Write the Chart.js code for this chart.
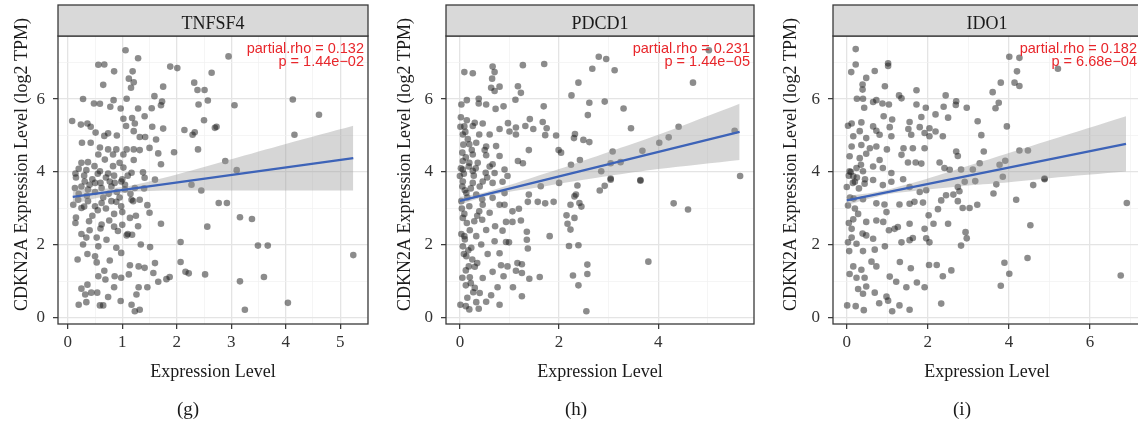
<!DOCTYPE html>
<html><head><meta charset="utf-8">
<script src="https://cdn.jsdelivr.net/npm/chart.js@4.4.1/dist/chart.umd.min.js"></script>
<style>
html,body{margin:0;padding:0;background:#fff;width:1138px;height:425px;overflow:hidden;position:relative}
canvas{position:absolute;top:0}
</style></head><body>
<canvas id="cg" width="378" height="425" style="left:0px"></canvas>
<canvas id="ch" width="380" height="425" style="left:378px"></canvas>
<canvas id="ci" width="390" height="425" style="left:758px"></canvas>
<script>
// ---------- tick labels ----------
const yMajor = [0, 2, 4, 6];
const yMinor = [1, 3, 5, 7];
const gXMajor = [0, 1, 2, 3, 4, 5];
const gXMinor = [0.5, 1.5, 2.5, 3.5, 4.5, 5.5];
const hXMajor = [0, 2, 4];
const hXMinor = [1, 3, 5];
const iXMajor = [0, 2, 4, 6];
const iXMinor = [1, 3, 5, 7];

// ---------- panel titles / stats ----------
const panelGenes = ['TNFSF4', 'PDCD1', 'IDO1'];
const panelRho = ['partial.rho = 0.132', 'partial.rho = 0.231', 'partial.rho = 0.182'];
const panelP = ['p = 1.44e\u221202', 'p = 1.44e\u221205', 'p = 6.68e\u221204'];
const panelLetters = ['(g)', '(h)', '(i)'];
const yTitle = 'CDKN2A Expression Level (log2 TPM)';
const xTitle = 'Expression Level';

// ---------- TNFSF4 (g) ----------
const tnfsf4Pts = [
[1.06,7.34],[1.29,7.12],[0.56,6.94],[0.67,6.95],[0.85,6.76],[1.19,6.76],[1.12,6.56],[1.21,6.46],[0.65,6.39],[1.16,6.31],
[1.88,6.89],[2.01,6.85],[2.95,7.17],[2.64,6.72],[2.32,6.45],[2.38,6.25],[2.51,6.25],[1.75,6.34],[1.59,6.08],[1.73,5.93],
[1.71,5.83],[1.54,5.75],[0.28,6.00],[0.48,5.88],[0.59,5.87],[0.84,5.97],[0.78,5.79],[1.08,6.01],[1.29,5.74],[0.97,5.74],
[2.57,5.96],[2.40,5.85],[3.06,5.83],[4.13,5.99],[4.61,5.57],[4.16,5.02],[0.08,5.40],[0.24,5.30],[0.36,5.33],[0.42,5.24],
[1.02,5.46],[1.18,5.48],[1.07,5.26],[1.23,5.33],[1.41,5.53],[1.55,5.24],[1.75,5.19],[2.50,5.42],[2.70,5.21],[2.73,5.24],
[2.14,5.15],[2.33,5.09],[2.29,5.02],[2.39,4.62],[1.95,4.54],[1.62,4.89],[1.50,4.66],[1.66,4.51],[1.71,4.21],[1.32,4.96],
[1.42,4.96],[1.21,5.12],[0.51,5.08],[0.67,4.99],[0.74,5.06],[0.90,5.00],[0.26,4.80],[0.42,4.80],[0.59,4.67],[0.74,4.62],
[0.89,4.62],[1.08,4.62],[1.21,4.62],[1.32,4.60],[0.56,4.48],[0.83,4.48],[1.02,4.48],[0.68,4.34],[0.95,4.25],[1.21,4.33],
[0.25,4.25],[0.37,4.27],[0.49,4.16],[0.83,4.16],[1.02,4.12],[0.20,4.09],[0.34,4.05],[0.59,4.02],[0.74,3.96],[0.14,3.96],
[1.17,3.98],[1.38,3.99],[2.89,4.30],[3.10,4.05],
[0.31,3.74],[0.50,3.70],[0.77,3.74],[0.86,3.70],[0.98,3.74],[1.41,3.84],[1.60,3.79],[2.27,3.65],[2.45,3.49],[0.13,3.56],
[0.37,3.52],[0.62,3.56],[1.05,3.52],[1.23,3.56],[0.19,3.24],[0.37,3.20],[0.62,3.15],[0.80,3.20],[0.89,3.18],[1.17,3.24],
[1.32,3.24],[1.46,3.09],[0.98,3.06],[0.50,3.06],[0.25,3.01],[2.77,3.15],[2.92,3.15],[3.16,2.76],[3.38,2.71],[2.56,2.50],
[0.14,2.60],[0.39,2.65],[0.62,2.56],[0.76,2.67],[1.14,2.74],[1.29,2.51],[1.50,2.88],[1.71,2.58],[0.92,2.38],[0.53,2.20],
[0.34,2.20],[0.71,2.14],[1.18,2.28],[1.08,2.26],[2.07,2.08],[1.51,1.94],[1.34,2.01],[0.28,2.01],[0.56,1.96],[0.89,1.92],
[0.36,1.75],[0.50,1.69],[0.18,1.60],[0.53,1.52],[0.77,1.57],[0.98,1.78],[1.14,1.44],[1.30,1.41],[1.41,1.37],[1.60,1.50],
[2.07,1.53],[2.16,1.26],[2.22,1.22],[2.52,1.19],[3.49,1.98],[3.67,1.98],[5.24,1.72],[3.60,1.12],[3.16,1.00],[4.04,0.41],
[3.25,0.22],[0.67,1.29],[0.86,1.14],[0.98,1.10],[1.12,1.19],[0.56,1.14],[1.57,1.23],[1.66,0.99],[1.81,1.06],[1.87,1.12],
[0.69,1.05],[0.85,0.84],[0.25,0.80],[0.36,0.91],[0.43,0.69],[0.54,0.69],[0.32,0.64],[0.74,0.57],[1.26,0.64],[1.30,0.84],
[1.46,0.84],[0.97,0.46],[0.20,0.36],[0.34,0.43],[0.59,0.34],[0.65,0.34],[1.17,0.36],[1.23,0.18],[1.32,0.22],
[0.15,3.85],[0.30,3.90],[0.45,3.80],[0.55,3.95],[0.70,3.85],[0.85,3.90],[1.00,3.80],[1.10,3.90],[0.25,3.60],[0.40,3.65],
[0.60,3.70],[0.80,3.60],[0.90,3.45],[1.05,3.65],[1.15,3.40],[0.20,3.40],[0.35,3.35],[0.50,3.45],[0.65,3.30],[0.75,3.40],
[0.95,3.30],[1.20,3.20],[1.40,3.55],[0.10,3.10],[0.30,3.05],[0.55,2.95],[0.70,3.00],[0.85,2.85],[1.00,2.90],[1.25,2.80],
[0.45,2.80],[0.15,2.75],[0.60,2.45],[0.85,2.50],[1.10,2.30],[0.40,2.40],[0.25,2.30],[1.00,2.55]
];
const tnfsf4FitX  = [0.09, 0.5, 1.0, 1.5, 2.0, 3.0, 4.0, 5.24];
const tnfsf4FitHi = [3.53, 3.53, 3.59, 3.74, 3.93, 4.35, 4.77, 5.27];
const tnfsf4FitLo = [3.11, 3.27, 3.43, 3.48, 3.49, 3.49, 3.49, 3.49];
const tnfsf4Line  = [[0.09, 3.32], [5.24, 4.38]];

// ---------- PDCD1 (h) ----------
const pdcd1Pts = [
[0.09,6.74],[0.26,6.71],[0.66,6.89],[0.70,6.74],[0.65,6.56],[0.63,6.31],[0.70,6.22],[0.80,6.34],[1.27,6.93],[1.70,6.96],
[2.80,7.16],[2.95,7.10],[2.67,6.83],[3.12,6.79],[2.39,6.45],[4.70,6.45],[5.02,7.34],[1.17,6.35],[1.23,6.17],[2.25,6.10],
[2.61,5.90],[2.92,5.93],[2.58,5.56],[3.30,5.74],[3.45,5.20],[4.41,5.24],[4.21,4.95],[4.02,4.80],[5.54,5.13],[5.65,3.89],
[3.68,4.58],[3.08,4.56],[3.24,4.27],[3.04,4.24],[2.42,4.33],[2.24,4.20],[2.85,4.02],[3.04,3.82],[3.64,3.78],[2.32,5.04],
[2.30,4.93],[2.49,4.88],[2.61,4.82],[1.94,5.00],[1.69,5.80],[1.12,5.98],[0.88,5.80],[0.53,5.85],[0.38,6.01],[0.38,5.88],
[0.14,5.97],[0.03,5.85],[0.72,5.73],[1.41,5.45],[1.67,5.37],[1.75,5.20],[1.32,5.26],[1.48,5.18],[1.13,5.22],[0.97,5.34],
[0.80,5.18],[0.60,5.03],[1.00,5.11],[1.13,5.03],[1.72,5.01],[0.01,5.24],[0.14,5.42],[0.30,5.35],[0.46,5.33],[0.26,5.26],
[0.06,5.03],[0.39,5.03],[0.19,4.76],[0.33,4.80],[0.53,4.70],[0.73,4.71],[0.05,4.53],[0.26,4.48],[0.53,4.46],[0.80,4.44],
[1.39,4.60],[1.99,4.60],[2.04,4.53],[1.17,4.30],[1.27,4.24],[0.66,4.21],[0.06,4.30],[0.19,4.25],[0.36,4.25],[0.06,4.07],
[0.26,4.03],[0.52,3.98],[0.70,3.97],[0.90,4.07],[0.00,3.89],[0.96,3.89],
[0.06,3.74],[0.26,3.70],[0.46,3.74],[0.66,3.70],[0.86,3.73],[2.00,3.70],[2.37,3.63],[2.82,3.49],[2.92,3.62],[3.04,3.79],
[3.64,3.76],[2.34,3.38],[2.31,3.33],[1.39,3.38],[1.63,3.61],[1.37,3.18],[1.57,3.18],[1.72,3.14],[1.89,3.18],[2.23,3.10],
[2.41,3.15],[2.45,3.05],[4.31,3.14],[4.60,2.97],[0.90,3.42],[0.66,3.29],[0.33,3.38],[0.13,3.42],[0.03,3.20],[0.19,3.06],
[0.46,3.10],[0.80,3.10],[0.90,3.10],[0.60,2.88],[0.39,2.92],[0.06,2.74],[0.29,2.65],[0.45,2.69],[0.71,2.51],[1.06,2.92],
[1.19,2.99],[1.23,2.67],[0.93,2.63],[1.06,2.63],[0.86,2.39],[0.53,2.41],[0.09,2.24],[0.33,2.24],[2.15,2.81],[2.31,2.74],
[2.17,2.58],[2.23,2.42],[1.81,2.24],[1.35,2.36],[1.35,2.14],[1.37,1.90],[0.93,2.08],[0.99,2.07],[0.70,2.10],[0.43,2.01],
[0.23,1.92],[0.06,1.96],[2.20,1.97],[2.39,1.99],[0.56,1.75],[0.80,1.77],[0.13,1.69],[0.35,1.50],[0.18,1.41],[0.66,1.26],
[0.83,1.44],[0.96,1.41],[1.16,1.50],[1.25,1.47],[1.13,1.29],[1.25,1.23],[0.88,1.14],[1.40,1.07],[1.61,1.12],[2.57,1.46],
[2.57,1.20],[2.28,1.16],[2.39,0.89],[3.80,1.54],[1.07,0.84],[1.25,0.59],[0.46,1.09],[0.30,0.82],[0.12,0.89],[0.20,1.11],
[0.40,0.68],[0.33,0.43],[0.63,0.62],[0.76,0.84],[0.80,0.36],[0.01,0.36],[0.12,0.32],[0.19,0.23],[0.38,0.25],[0.53,0.44],
[2.55,0.18],
[0.02,4.10],[0.08,3.95],[0.12,4.40],[0.18,4.15],[0.05,3.60],[0.10,3.50],[0.15,3.30],[0.22,3.55],[0.28,3.90],[0.32,4.10],
[0.04,3.00],[0.09,2.85],[0.14,2.60],[0.20,2.40],[0.03,2.30],[0.10,2.15],[0.17,1.85],[0.08,1.75],[0.25,1.60],[0.12,1.30],
[0.05,1.10],[0.22,0.95],[0.15,0.55],[0.27,0.70],[0.30,1.40],[0.35,2.80],[0.40,3.60],[0.45,3.25],[0.50,4.60],[0.55,3.85],
[0.60,4.15],[0.07,4.75],[0.11,5.10],[0.16,4.90],[0.24,4.60],[0.02,5.50],[0.09,5.25]
];
const pdcd1FitX  = [0, 0.5, 1, 1.5, 2, 3, 4, 5.64];
const pdcd1FitHi = [3.32, 3.44, 3.64, 3.86, 4.08, 4.55, 5.02, 5.87];
const pdcd1FitLo = [3.10, 3.32, 3.46, 3.56, 3.68, 3.89, 4.08, 4.33];
const pdcd1Line  = [[0, 3.21], [5.64, 5.10]];

// ---------- IDO1 (i) ----------
const ido1Pts = [
[0.22,7.37],[0.22,6.95],[0.11,6.74],[0.48,6.58],[0.69,6.77],[1.02,6.98],[1.02,6.91],[0.39,6.40],[0.39,6.26],[0.94,6.35],
[1.72,6.24],[1.29,6.10],[1.35,6.02],[0.25,6.01],[0.40,6.01],[0.65,5.92],[0.73,5.97],[0.88,5.88],[1.04,5.85],[0.43,5.76],
[1.72,5.85],[1.95,5.76],[2.44,6.10],[2.70,5.94],[2.69,5.84],[2.96,5.76],[2.39,5.79],[2.19,5.58],[2.50,5.49],[0.91,5.53],
[1.12,5.44],[1.55,5.37],[1.84,5.51],[4.01,7.16],[4.26,7.13],[4.20,6.76],[4.14,6.45],[4.26,6.36],[3.80,6.45],[3.60,6.19],
[3.75,5.90],[3.67,5.75],[3.95,5.25],[3.23,5.39],[3.32,5.01],[3.38,4.56],[5.21,6.83],[4.26,4.59],[4.47,4.59],[3.28,4.24],
[3.77,4.20],[3.91,4.31],[3.85,3.87],[4.88,3.82],[0.03,5.27],[0.12,5.33],[0.36,5.36],[0.32,5.12],[0.65,5.25],[0.73,5.13],
[1.06,5.23],[1.52,5.18],[1.59,5.02],[1.80,5.23],[1.92,5.07],[2.04,5.20],[2.19,5.11],[2.37,4.98],[2.04,4.98],[0.16,4.98],
[0.48,4.93],[0.81,5.02],[1.10,4.98],[0.12,4.70],[0.36,4.74],[0.57,4.65],[0.73,4.70],[0.99,4.62],[1.40,4.65],[1.63,4.65],
[1.92,4.65],[2.70,4.56],[2.74,4.44],[1.35,4.47],[1.51,4.26],[1.70,4.26],[1.84,4.23],[2.29,4.26],[2.41,4.11],[2.54,4.06],
[2.82,4.07],[3.11,4.07],[0.07,4.43],[0.32,4.38],[0.48,4.50],[0.81,4.33],[0.24,4.11],[0.40,4.02],[0.65,4.15],[0.89,4.11],
[1.10,3.97],[1.39,3.80],[0.07,4.02],[0.16,3.88],
[0.00,3.59],[0.20,3.73],[0.44,3.68],[0.65,3.78],[0.89,3.64],[1.10,3.73],[1.55,3.59],[1.80,3.45],[1.96,3.50],[2.74,3.59],
[2.78,3.47],[2.91,3.73],[3.17,3.75],[3.69,3.66],[3.62,3.41],[4.60,3.64],[4.88,3.80],[6.91,3.15],[4.18,3.24],[4.53,2.54],
[3.89,1.51],[4.01,1.21],[4.46,1.64],[3.80,0.88],[6.76,1.16],[2.33,0.39],[0.17,3.27],[0.40,3.25],[0.73,3.14],[0.93,3.11],
[1.30,3.11],[1.55,3.13],[1.67,3.18],[1.88,3.16],[2.33,3.22],[2.45,3.36],[2.63,3.38],[2.74,3.20],[2.86,3.01],[3.03,3.01],
[3.22,3.10],[2.25,2.98],[2.02,2.81],[2.14,2.58],[2.50,2.58],[0.03,3.08],[0.16,2.70],[0.12,2.44],[0.39,2.31],[0.48,2.63],
[0.73,2.67],[0.98,2.90],[0.90,2.63],[1.18,2.44],[1.04,2.40],[1.26,2.49],[1.55,2.58],[1.92,2.44],[1.96,2.18],[2.04,2.07],
[2.93,2.35],[2.96,2.18],[2.82,1.98],[1.63,2.19],[1.55,2.13],[1.35,2.07],[0.65,2.17],[0.48,2.26],[0.94,1.96],[0.69,1.87],
[0.40,1.83],[0.06,1.83],[0.03,2.07],[0.24,2.03],[0.61,1.54],[0.73,1.41],[0.16,1.41],[0.36,1.32],[0.07,1.20],[0.24,1.10],
[0.44,1.10],[0.48,0.86],[0.28,0.79],[0.40,0.66],[0.69,0.69],[0.98,0.58],[0.80,0.40],[0.01,0.34],[0.22,0.32],[0.42,0.21],
[1.31,1.53],[1.58,1.36],[1.06,1.13],[1.22,0.99],[1.47,0.84],[1.73,0.97],[1.92,0.84],[2.03,1.45],[2.22,1.45],[2.37,1.14],
[2.58,1.30],[1.12,0.18],[1.30,0.34],[1.55,0.22],[1.02,0.47],
[0.05,3.90],[0.10,4.00],[0.15,3.70],[0.25,3.85],[0.30,3.55],[0.35,4.20],[0.08,3.30],[0.20,3.00],[0.28,2.85],[0.45,3.80],
[0.12,2.20],[0.05,2.60]
];
const ido1FitX  = [0, 0.5, 1, 1.5, 2, 3, 4, 5, 6.89];
const ido1FitHi = [3.35, 3.41, 3.51, 3.66, 3.82, 4.17, 4.52, 4.87, 5.53];
const ido1FitLo = [3.09, 3.25, 3.39, 3.46, 3.52, 3.63, 3.72, 3.83, 4.01];
const ido1Line  = [[0, 3.22], [6.89, 4.77]];

// ---------- drawing ----------
const SERIF = '"Liberation Serif", "DejaVu Serif", serif';
const SANS = '"Liberation Sans", Arial, sans-serif';

const decor = {
  id: 'decor',
  afterDraw(chart, args, o) {
    const {ctx, chartArea: a} = chart;
    ctx.save();
    // panel border
    ctx.strokeStyle = '#3a3a3a';
    ctx.lineWidth = 1.3;
    ctx.strokeRect(a.left, a.top, a.right - a.left, a.bottom - a.top);
    // strip
    ctx.fillStyle = '#d9d9d9';
    ctx.fillRect(a.left, 5, a.right - a.left, a.top - 5);
    ctx.strokeRect(a.left, 5, a.right - a.left, a.top - 5);
    ctx.fillStyle = '#1a1a1a';
    ctx.font = '18px ' + SERIF;
    ctx.textAlign = 'center';
    ctx.textBaseline = 'alphabetic';
    ctx.fillText(o.strip, (a.left + a.right) / 2, 29);
    // stats
    ctx.fillStyle = '#e8262b';
    ctx.font = '14.5px ' + SANS;
    ctx.textAlign = 'right';
    ctx.fillText(o.rho, a.right - 4, 53);
    ctx.fillText(o.p, a.right - 4, 66);
    // x title
    ctx.fillStyle = '#1a1a1a';
    ctx.font = '18px ' + SERIF;
    ctx.textAlign = 'center';
    ctx.fillText(xTitle, (a.left + a.right) / 2, 377);
    // panel letter
    ctx.font = '19px ' + SERIF;
    ctx.fillText(o.letter, o.letterX, 415);
    // y title
    ctx.translate(o.yTitleX, 164.5);
    ctx.rotate(-Math.PI / 2);
    ctx.font = '18px ' + SERIF;
    ctx.textBaseline = 'middle';
    ctx.fillText(yTitle, 0, 0);
    ctx.restore();
  }
};

function makePanel(id, c) {
  const xAll = [...c.xMajor, ...c.xMinor].sort((a, b) => a - b);
  const yAll = [...yMajor, ...yMinor].sort((a, b) => a - b);
  const gridFor = (major) => ({
    color: (ctx) => ctx.tick && major.includes(ctx.tick.value) ? '#e4e4e4' : '#f1f1f1',
    lineWidth: (ctx) => ctx.tick && major.includes(ctx.tick.value) ? 1.3 : 0.7,
    tickColor: (ctx) => ctx.tick && major.includes(ctx.tick.value) ? '#333' : 'rgba(0,0,0,0)',
    tickWidth: 1.2,
    tickLength: 5,
    drawTicks: true
  });
  new Chart(document.getElementById(id), {
    type: 'scatter',
    data: {
      datasets: [
        { type: 'line', data: c.line.map(([x, y]) => ({x, y})), borderColor: '#3d63b8', borderWidth: 2.3,
          pointRadius: 0, fill: false, order: 1 },
        { type: 'line', data: c.fitX.map((x, i) => ({x, y: c.hi[i]})), borderColor: 'rgba(0,0,0,0)',
          pointRadius: 0, fill: '+1', backgroundColor: 'rgba(153,153,153,0.4)', tension: 0.3, order: 2 },
        { type: 'line', data: c.fitX.map((x, i) => ({x, y: c.lo[i]})), borderColor: 'rgba(0,0,0,0)',
          pointRadius: 0, fill: false, tension: 0.3, order: 3 },
        { type: 'scatter', data: c.pts.map(([x, y]) => ({x, y})), pointRadius: 3.3, borderWidth: 0,
          backgroundColor: 'rgba(25,25,25,0.5)', order: 4 }
      ]
    },
    options: {
      responsive: false, animation: false, devicePixelRatio: 1,
      layout: { padding: { left: 0, right: c.padR, top: 36, bottom: 0 } },
      plugins: { legend: { display: false }, tooltip: { enabled: false }, decor: c.decor },
      scales: {
        x: {
          type: 'linear', min: c.xMin, max: c.xMax,
          afterBuildTicks: (s) => { s.ticks = xAll.map(v => ({value: v})); },
          afterFit: (s) => { s.height = 101; },
          ticks: { autoSkip: false, maxRotation: 0, padding: 3, color: '#333',
                   font: { family: SERIF, size: 17 },
                   callback: (v) => c.xMajor.includes(v) ? String(v) : '' },
          grid: gridFor(c.xMajor),
          border: { display: false }
        },
        y: {
          type: 'linear', min: -0.17, max: 7.73,
          afterBuildTicks: (s) => { s.ticks = yAll.map(v => ({value: v})); },
          afterFit: (s) => { s.width = c.yW; },
          ticks: { autoSkip: false, padding: 8, color: '#333',
                   font: { family: SERIF, size: 17 },
                   callback: (v) => yMajor.includes(v) ? String(v) : '' },
          grid: gridFor(yMajor),
          border: { display: false }
        }
      }
    },
    plugins: [decor]
  });
}

makePanel('cg', { pts: tnfsf4Pts, fitX: tnfsf4FitX, hi: tnfsf4FitHi, lo: tnfsf4FitLo, line: tnfsf4Line,
  xMajor: gXMajor, xMinor: gXMinor, xMin: -0.18, xMax: 5.51, yW: 58, padR: 10,
  decor: { strip: panelGenes[0], rho: panelRho[0], p: panelP[0], letter: panelLetters[0], letterX: 188, yTitleX: 22 } });
makePanel('ch', { pts: pdcd1Pts, fitX: pdcd1FitX, hi: pdcd1FitHi, lo: pdcd1FitLo, line: pdcd1Line,
  xMajor: hXMajor, xMinor: hXMinor, xMin: -0.28, xMax: 5.93, yW: 68, padR: 3,
  decor: { strip: panelGenes[1], rho: panelRho[1], p: panelP[1], letter: panelLetters[1], letterX: 198, yTitleX: 27 } });
makePanel('ci', { pts: ido1Pts, fitX: ido1FitX, hi: ido1FitHi, lo: ido1FitLo, line: ido1Line,
  xMajor: iXMajor, xMinor: iXMinor, xMin: -0.34, xMax: 7.26, yW: 75, padR: 7,
  decor: { strip: panelGenes[2], rho: panelRho[2], p: panelP[2], letter: panelLetters[2], letterX: 204, yTitleX: 33 } });
</script>
</body></html>
